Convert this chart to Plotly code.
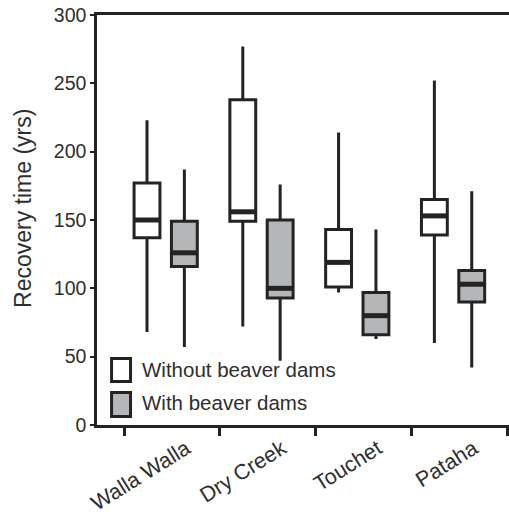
import plotly.graph_objects as go

# ---- data ----
sites = ["Walla Walla", "Dry Creek", "Touchet", "Pataha"]

without_upper = [223, 277, 214, 252]
without_q3 = [177, 238, 143, 165]
without_median = [150, 156, 119, 153]
without_q1 = [137, 149, 101, 139]
without_lower = [68, 72, 97, 60]

with_upper = [187, 176, 143, 171]
with_q3 = [149, 150, 97, 113]
with_median = [126, 100, 80, 103]
with_q1 = [116, 93, 66, 90]
with_lower = [57, 47, 63, 42]

series_names = ["Without beaver dams", "With beaver dams"]
y_ticks = [0, 50, 100, 150, 200, 250, 300]
y_title = "Recovery time (yrs)"

# ---- style / layout constants ----
FONT = "Liberation Sans, Arial, Helvetica, sans-serif"
TXT = "#2e2e2e"
LINE = "#232323"
GRAY = "#b5b6b8"
BOXW = 0.27
OFF_W, OFF_G = -0.26, 0.13
LABEL_SHIFT = 0.15

idx = list(range(len(sites)))
pos_w = [i + OFF_W for i in idx]
pos_g = [i + OFF_G for i in idx]

fig = go.Figure()


def add_group(pos, lo, q1, med, q3, hi, fill, name):
    fig.add_trace(go.Box(
        x=pos, q1=q1, median=med, q3=q3, lowerfence=lo, upperfence=hi,
        width=BOXW, fillcolor=fill, line=dict(color=LINE, width=3),
        boxpoints=False, name=name, showlegend=False, hoverinfo="skip",
        whiskerwidth=0,
    ))
    xs, ys = [], []
    for p, m in zip(pos, med):
        xs += [p - BOXW / 2, p + BOXW / 2, None]
        ys += [m, m, None]
    fig.add_trace(go.Scatter(x=xs, y=ys, mode="lines",
                             line=dict(color=LINE, width=5),
                             showlegend=False, hoverinfo="skip"))


add_group(pos_w, without_lower, without_q1, without_median, without_q3,
          without_upper, "white", series_names[0])
add_group(pos_g, with_lower, with_q1, with_median, with_q3,
          with_upper, GRAY, series_names[1])

# manual legend (squares + real text)
leg = [(48.6, 31.8, "white", 40.5), (23.8, 6.2, GRAY, 16.3)]
for (y0, y1, fill, yt), label in zip(leg, series_names):
    fig.add_shape(type="rect", xref="x", yref="y", x0=-0.63, x1=-0.432,
                  y0=y1, y1=y0, fillcolor=fill,
                  line=dict(color=LINE, width=3))
    fig.add_annotation(x=-0.33, y=yt, xref="x", yref="y", text=label,
                       showarrow=False, xanchor="left", yanchor="middle",
                       font=dict(family=FONT, size=20.5, color=TXT))

# y-axis title as rotated annotation
fig.add_annotation(x=-0.18, y=0.529, xref="paper", yref="paper",
                   text=y_title, textangle=-90, showarrow=False,
                   xanchor="center", yanchor="middle",
                   font=dict(family=FONT, size=23, color=TXT))

fig.update_layout(
    width=509, height=517,
    margin=dict(l=97, r=0, t=15, b=92),
    paper_bgcolor="white", plot_bgcolor="white",
    font=dict(family=FONT, color=TXT),
    showlegend=False,
)
fig.update_xaxes(
    range=[-0.782, 3.519], automargin=False,
    tickvals=[i + LABEL_SHIFT for i in idx], ticktext=sites,
    ticks="", tickangle=-32, tickfont=dict(size=21.5, color=TXT),
    showline=True, linecolor=LINE, linewidth=2.5, mirror=True,
    showgrid=False, zeroline=False,
    minor=dict(ticks="outside", tick0=-0.5, dtick=1, ticklen=8,
               tickwidth=2.5, tickcolor=LINE, showgrid=False),
)
fig.update_yaxes(
    range=[0, 300], tickvals=y_ticks, automargin=False,
    ticks="outside", ticklen=4, tickwidth=2, tickcolor=LINE,
    tickfont=dict(size=19.5, color=TXT),
    showline=True, linecolor=LINE, linewidth=2.5,
    showgrid=False, zeroline=False,
)

fig.write_html("out.html")
